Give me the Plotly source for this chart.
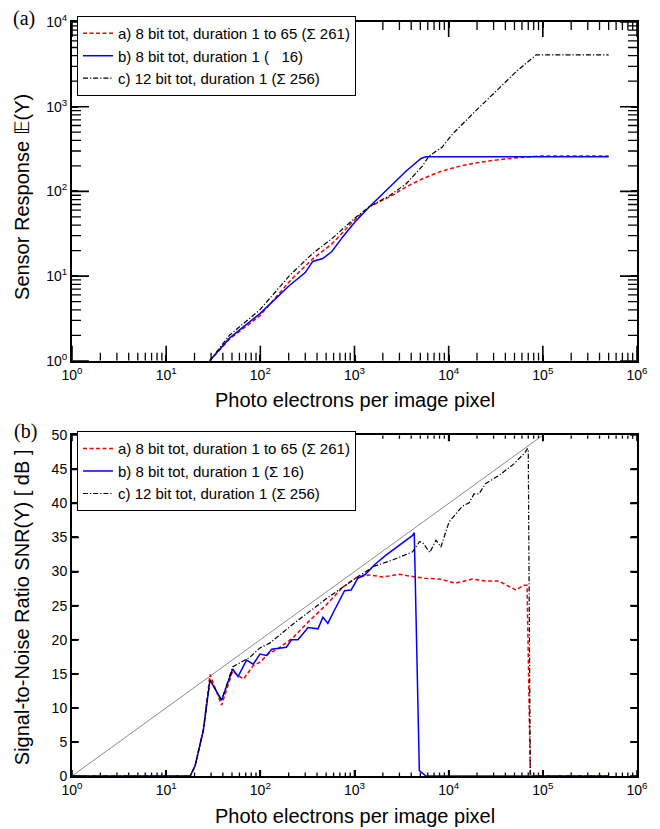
import math
import plotly.graph_objects as go

# ---------------- data: (a) sensor response ----------------
top_a_x = [29, 47, 99, 205, 360, 575, 1000, 1440, 2350, 3540, 5250, 8000, 12000, 18000, 26800, 40000, 60000, 91000, 500000]
top_a_y = [1, 1.8, 3.4, 8.7, 16, 24, 46, 66, 86, 113, 141, 170, 194, 214, 229, 243, 253, 261, 261]

top_b_x = [29, 47, 99, 205, 300, 360, 460, 575, 750, 1000, 1440, 2350, 3540, 5130, 5770, 500000]
top_b_y = [1, 1.85, 3.6, 7.8, 11, 14.9, 16.1, 19.5, 29, 43, 66, 113, 174, 246, 256, 256]

top_c_x = [29, 47, 99, 205, 360, 575, 1000, 1440, 2350, 3540, 5250, 6200, 8500, 10900, 17800, 31700, 51800, 85000, 500000]
top_c_y = [1, 2.0, 4.0, 10.2, 18.5, 27.7, 48, 66, 89, 123, 199, 262, 332, 471, 813, 1510, 2580, 4096, 4096]

# ---------------- data: (b) SNR in dB ----------------
snr_a_x = [1, 18, 20.3, 24.8, 29.2, 38.8, 50.8, 58, 66, 84, 99, 126, 148, 222, 333, 500, 751, 1045, 1445, 2000,
           2990, 4000, 5730, 8000, 11900, 17800, 25000, 34200, 51600, 62700, 68000, 73600, 83700, 500000]
snr_a_y = [0, 0, 1.5, 6.7, 14.9, 10.4, 15.4, 14.8, 14.2, 16.2, 16.7, 18.1, 18.5, 20.3, 22.8, 25.1, 27.7, 29.1, 29.5, 29.2,
           29.6, 29.3, 29.0, 28.9, 28.3, 28.9, 28.6, 28.6, 27.3, 28.0, 28.0, 0.3, 0, 0]

snr_b_x = [1, 18, 20.3, 24.8, 29.2, 38.8, 50.8, 58, 71.4, 84, 99, 116, 132, 189, 214, 251, 321, 409, 462, 521, 616,
           784, 922, 1083, 1310, 1630, 2160, 2990, 4140, 4310, 4880, 5730, 500000]
snr_b_y = [0, 0, 1.5, 6.7, 14.1, 11.1, 15.7, 14.6, 17.0, 16.4, 17.9, 17.7, 18.6, 18.9, 20.0, 20.0, 21.8, 21.6, 23.3, 22.4, 24.4,
           27.2, 27.3, 29.0, 29.6, 31.0, 32.4, 33.9, 35.3, 35.7, 0.8, 0, 0]

snr_c_x = [1, 18, 20.3, 24.8, 29.2, 38.8, 50.8, 77, 99, 126, 223, 500, 1125, 1630, 2540, 4140, 4900, 5270, 6300, 7330,
           8270, 10100, 14000, 16500, 18600, 21000, 24600, 34200, 49300, 65000, 68200, 70000, 73600, 83700, 500000]
snr_c_y = [0, 0, 1.5, 6.7, 14.1, 11.1, 16.0, 17.4, 18.8, 19.5, 22.3, 26.0, 29.4, 30.8, 31.7, 32.9, 34.4, 34.3, 32.8, 34.6,
           33.6, 37.3, 39.6, 40.1, 41.4, 41.4, 42.9, 44.1, 45.8, 47.5, 48.0, 48.0, 0.3, 0, 0]

ideal_x = [1, 100000]
ideal_y = [0, 50]

# ---------------- labels ----------------
name_a = "a) 8 bit tot, duration 1 to 65 (Σ 261)"
name_b_top = "b) 8 bit tot, duration 1 (\u00a0\u00a0\u00a016)"
name_b_bot = "b) 8 bit tot, duration 1 (Σ 16)"
name_c = "c) 12 bit tot, duration 1 (Σ 256)"

x_tick_vals = [1, 10, 100, 1000, 10000, 100000, 1000000]
x_tick_text = ["10<sup>0</sup>", "10<sup>1</sup>", "10<sup>2</sup>", "10<sup>3</sup>",
               "10<sup>4</sup>", "10<sup>5</sup>", "10<sup>6</sup>"]
top_y_tick_vals = [1, 10, 100, 1000, 10000]
top_y_tick_text = ["10<sup>0</sup>", "10<sup>1</sup>", "10<sup>2</sup>", "10<sup>3</sup>", "10<sup>4</sup>"]
bot_y_tick_vals = [0, 5, 10, 15, 20, 25, 30, 35, 40, 45, 50]
bot_y_tick_text = [str(v) for v in bot_y_tick_vals]

minor_x_vals = [m * 10 ** k for k in range(0, 6) for m in range(2, 10)]
minor_y_vals = [m * 10 ** k for k in range(0, 4) for m in range(2, 10)]

X_RANGE = [0, 6]        # log10 decades
TOP_Y_RANGE = [0, 4]    # log10 decades
BOT_Y_RANGE = [0, 50]   # dB

RED = "#ff0000"
BLUE = "#0000ff"
BLACK = "#000000"
DASH_A = "4px,2.5px"
DASH_C = "5px,2px,1.2px,2px"

FIG_W, FIG_H = 660, 829
M_L, M_R, M_T, M_B = 72, 22, 17, 53
top_dom = [0.5507, 1.0]
bot_dom = [0.0, 0.4519]
PLOT_W = FIG_W - M_L - M_R
PLOT_H = FIG_H - M_T - M_B
TOP_H = PLOT_H * (top_dom[1] - top_dom[0])
BOT_H = PLOT_H * (bot_dom[1] - bot_dom[0])

fig = go.Figure()


# ---- inside, mirrored tick marks, drawn as line traces along the axes ----
def axis_value(frac, rng, is_log):
    v = rng[0] + frac * (rng[1] - rng[0])
    return 10 ** v if is_log else v


def tick_trace(vals, along, length_px, span_px, xr, yr, x_log, y_log, xaxis, yaxis, width):
    xs, ys = [], []
    f = length_px / span_px
    for v in vals:
        if along == "x":
            for a, b in ((0.0, f), (1.0, 1.0 - f)):
                xs += [v, v, None]
                ys += [axis_value(a, yr, y_log), axis_value(b, yr, y_log), None]
        else:
            for a, b in ((0.0, f), (1.0, 1.0 - f)):
                ys += [v, v, None]
                xs += [axis_value(a, xr, x_log), axis_value(b, xr, x_log), None]
    return go.Scatter(x=xs, y=ys, mode="lines", line=dict(color="black", width=width, simplify=False),
                      connectgaps=False, hoverinfo="skip", showlegend=False,
                      xaxis=xaxis, yaxis=yaxis, cliponaxis=False)


fig.add_trace(tick_trace(x_tick_vals, "x", 15, TOP_H, X_RANGE, TOP_Y_RANGE, True, True, "x", "y", 1.6))
fig.add_trace(tick_trace(minor_x_vals, "x", 8, TOP_H, X_RANGE, TOP_Y_RANGE, True, True, "x", "y", 1.3))
fig.add_trace(tick_trace(top_y_tick_vals, "y", 17, PLOT_W, X_RANGE, TOP_Y_RANGE, True, True, "x", "y", 1.6))
fig.add_trace(tick_trace(minor_y_vals, "y", 9, PLOT_W, X_RANGE, TOP_Y_RANGE, True, True, "x", "y", 1.3))
fig.add_trace(tick_trace(x_tick_vals, "x", 6, BOT_H, X_RANGE, BOT_Y_RANGE, True, False, "x2", "y2", 1.6))
fig.add_trace(tick_trace(minor_x_vals, "x", 3.5, BOT_H, X_RANGE, BOT_Y_RANGE, True, False, "x2", "y2", 1.3))
fig.add_trace(tick_trace(bot_y_tick_vals, "y", 7, PLOT_W, X_RANGE, BOT_Y_RANGE, True, False, "x2", "y2", 1.6))

# data traces
fig.add_trace(go.Scatter(x=top_a_x, y=top_a_y, mode="lines", name=name_a,
                         line=dict(color=RED, width=1.5, dash=DASH_A), xaxis="x", yaxis="y", legend="legend"))
fig.add_trace(go.Scatter(x=top_b_x, y=top_b_y, mode="lines", name=name_b_top,
                         line=dict(color=BLUE, width=1.5), xaxis="x", yaxis="y", legend="legend"))
fig.add_trace(go.Scatter(x=top_c_x, y=top_c_y, mode="lines", name=name_c,
                         line=dict(color=BLACK, width=1.2, dash=DASH_C), xaxis="x", yaxis="y", legend="legend"))

fig.add_trace(go.Scatter(x=ideal_x, y=ideal_y, mode="lines", showlegend=False,
                         line=dict(color="#8a8a8a", width=1), xaxis="x2", yaxis="y2"))
fig.add_trace(go.Scatter(x=snr_a_x, y=snr_a_y, mode="lines", name=name_a,
                         line=dict(color=RED, width=1.5, dash=DASH_A), xaxis="x2", yaxis="y2", legend="legend2"))
fig.add_trace(go.Scatter(x=snr_b_x, y=snr_b_y, mode="lines", name=name_b_bot,
                         line=dict(color=BLUE, width=1.5), xaxis="x2", yaxis="y2", legend="legend2"))
fig.add_trace(go.Scatter(x=snr_c_x, y=snr_c_y, mode="lines", name=name_c,
                         line=dict(color=BLACK, width=1.2, dash=DASH_C), xaxis="x2", yaxis="y2", legend="legend2"))

FONT = "Liberation Sans, Arial, Helvetica, sans-serif"
tickfont = dict(family=FONT, size=14, color="black")


def axis_common():
    return dict(showline=True, linewidth=2, linecolor="black", mirror="allticks",
                ticks="inside", ticklen=6, tickwidth=1.5, tickcolor="black",
                showgrid=False, zeroline=False, tickfont=tickfont, tickmode="array")


fig.update_layout(
    width=FIG_W, height=FIG_H,
    margin=dict(l=M_L, r=M_R, t=M_T, b=M_B),
    paper_bgcolor="white", plot_bgcolor="white",
    font=dict(family=FONT, size=14, color="black"),
    xaxis=dict(type="log", range=X_RANGE, domain=[0, 1], anchor="y",
               tickvals=x_tick_vals, ticktext=x_tick_text, **axis_common()),
    yaxis=dict(type="log", range=TOP_Y_RANGE, domain=top_dom, anchor="x",
               tickvals=top_y_tick_vals, ticktext=top_y_tick_text, **axis_common()),
    xaxis2=dict(type="log", range=X_RANGE, domain=[0, 1], anchor="y2",
                tickvals=x_tick_vals, ticktext=x_tick_text, **axis_common()),
    yaxis2=dict(range=BOT_Y_RANGE, domain=bot_dom, anchor="x2",
                tickvals=bot_y_tick_vals, ticktext=bot_y_tick_text, **axis_common()),
    legend=dict(x=0.0088, y=1.008, xanchor="left", yanchor="top", xref="paper", yref="paper",
                bgcolor="white", bordercolor="black", borderwidth=1,
                font=dict(family=FONT, size=15, color="black"), itemwidth=30,
                tracegroupgap=0),
    legend2=dict(x=0.0088, y=0.4572, xanchor="left", yanchor="top", xref="paper", yref="paper",
                 bgcolor="white", bordercolor="black", borderwidth=1,
                 font=dict(family=FONT, size=15, color="black"), itemwidth=30,
                 tracegroupgap=0),
    showlegend=True,
)

TITLE_FONT = dict(family=FONT, size=20, color="black")
SERIF = dict(family="Liberation Serif, Times New Roman, serif", size=20, color="black")
annotations = [
    dict(text="(a)", x=-0.0848, y=1.0053, xref="paper", yref="paper", xanchor="center", yanchor="middle",
         showarrow=False, font=SERIF),
    dict(text="(b)", x=-0.083, y=0.4572, xref="paper", yref="paper", xanchor="center", yanchor="middle",
         showarrow=False, font=SERIF),
    dict(text="Photo electrons per image pixel", x=0.5, y=0.4993, xref="paper", yref="paper",
         xanchor="center", yanchor="middle", showarrow=False, font=TITLE_FONT),
    dict(text="Photo electrons per image pixel", x=0.5, y=-0.0527, xref="paper", yref="paper",
         xanchor="center", yanchor="middle", showarrow=False, font=TITLE_FONT),
    dict(text="Sensor Response 𝔼(Y)", x=-0.0883, y=0.7681, xref="paper", yref="paper",
         xanchor="center", yanchor="middle", textangle=-90, showarrow=False, font=TITLE_FONT),
    dict(text="Signal-to-Noise Ratio SNR(Y) [ dB ]", x=-0.0883, y=0.2240, xref="paper", yref="paper",
         xanchor="center", yanchor="middle", textangle=-90, showarrow=False, font=TITLE_FONT),
]
fig.update_layout(annotations=annotations)

fig.write_html("out.html", config={"displayModeBar": False},
               post_script="document.body.style.margin='0';document.body.style.overflow='hidden';")
